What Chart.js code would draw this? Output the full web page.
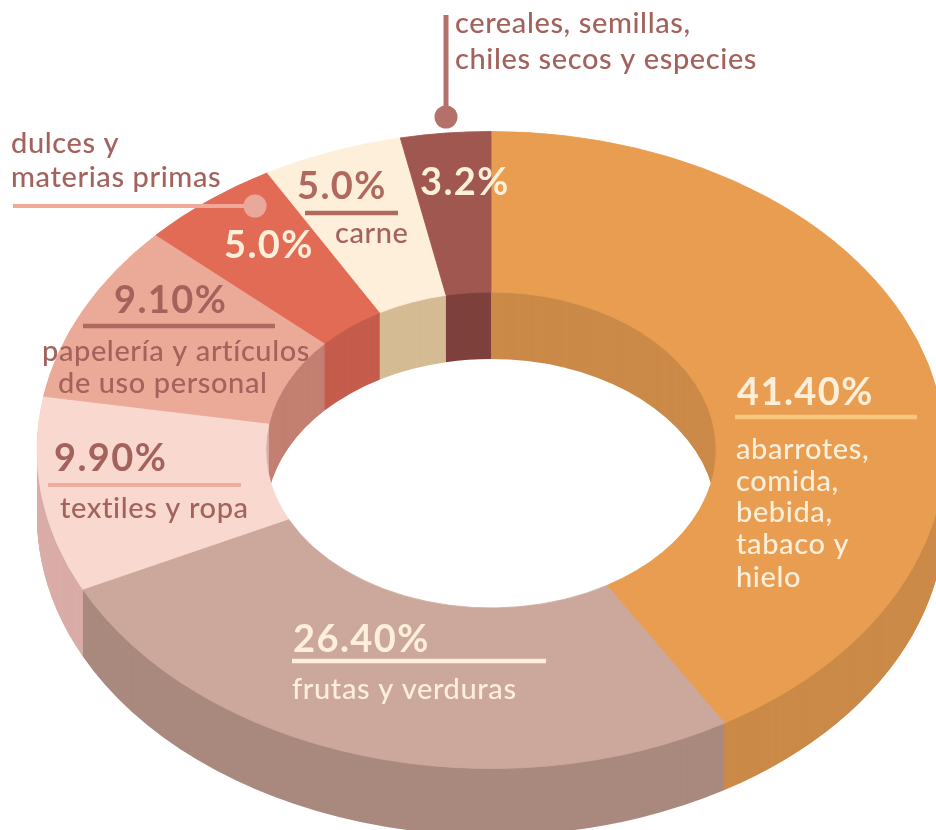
<!DOCTYPE html>
<html lang="es">
<head>
<meta charset="utf-8">
<style>
html,body{margin:0;padding:0;background:#fff;overflow:hidden;width:936px;height:830px}
canvas{display:block}
</style>
<script src="https://cdn.jsdelivr.net/npm/chart.js@4/dist/chart.umd.min.js"></script>
</head>
<body>
<canvas id="c" width="936" height="830"></canvas>
<script>
const categories = ['abarrotes, comida, bebida, tabaco y hielo','frutas y verduras','textiles y ropa','papelería y artículos de uso personal','dulces y materias primas','carne','cereales, semillas, chiles secos y especies'];
const shares = [41.4, 26.4, 9.9, 9.1, 5.0, 5.0, 3.2];
const faceColors = ['#E99D50','#CCA89C','#F9D9CF','#EBAA98','#E26B56','#FDEFDA','#A05750'];
const wallColors = ['#CB8947','#A9887D','#D9ABA6','#C27F70','#C55B4B','#D5BB93','#7E403C'];

const FONT = 'Lato, sans-serif';
const CY = 450, SQUASH = 318.5 / 454, DEPTH = 67;

const texts = [
  ['cereales, semillas,', 455, 33, 29, 500, '#A3625C'],
  ['chiles secos y especies', 455, 69, 29, 500, '#A3625C'],
  ['dulces y', 11, 153, 29, 500, '#A3625C'],
  ['materias primas', 11, 187, 29, 500, '#A3625C'],
  ['5.0%', 297, 199, 38, 700, '#B0695F'],
  ['carne', 335, 243, 29, 500, '#A3625C'],
  ['3.2%', 420, 195, 38, 700, '#FDEFDA'],
  ['5.0%', 224, 258, 38, 700, '#FDEFDA'],
  ['9.10%', 114, 313, 38, 700, '#A3625C'],
  ['papelería y artículos', 42, 361, 29, 500, '#A3625C'],
  ['de uso personal', 58, 393, 29, 500, '#A3625C'],
  ['9.90%', 54, 471, 38, 700, '#A3625C'],
  ['textiles y ropa', 60, 518, 29, 500, '#A3625C'],
  ['41.40%', 737, 405, 38, 700, '#FDEFDA'],
  ['abarrotes,', 736, 459, 29, 500, '#FDEFDA'],
  ['comida,', 736, 491, 29, 500, '#FDEFDA'],
  ['bebida,', 736, 522, 29, 500, '#FDEFDA'],
  ['tabaco y', 736, 554, 29, 500, '#FDEFDA'],
  ['hielo', 736, 587, 29, 500, '#FDEFDA'],
  ['26.40%', 293, 652, 38, 700, '#FDEFDA'],
  ['frutas y verduras', 292, 699, 29, 500, '#FDEFDA']
];
const rules = [
  [446, 15, 446, 115, 5, '#B5706A'],
  [13, 206, 250, 206, 4, '#F0A999'],
  [305, 213, 398, 213, 4.5, '#B0695F'],
  [83, 326, 275, 326, 4.5, '#B0695F'],
  [48, 485, 241, 485, 4, '#EEAE9D'],
  [735, 417, 917, 417, 4.5, '#FAC77F'],
  [292, 661, 546, 661, 4.5, '#FDEFDA']
];
const dots = [
  [446, 117, 11.5, '#B5706A'],
  [255, 206, 11.5, '#E9A99A']
];

function squash(ctx, cx, dy) {
  ctx.translate(cx, CY + dy);
  ctx.scale(1, SQUASH);
  ctx.translate(-cx, -CY);
}

const tilt = {
  id: 'tilt',
  beforeDatasetDraw(chart) {
    chart.ctx.save();
    squash(chart.ctx, chart.getDatasetMeta(0).data[0].x, 0);
  },
  afterDatasetDraw(chart, args) {
    const ctx = chart.ctx, arcs = args.meta.data, cx = arcs[0].x;
    ctx.restore();
    ctx.save();
    ctx.globalCompositeOperation = 'destination-over';
    for (let d = 1; d <= DEPTH; d++) {
      ctx.save();
      squash(ctx, cx, d);
      arcs.forEach((arc, i) => {
        const o = arc.options;
        arc.options = Object.assign({}, o, {backgroundColor: wallColors[i], borderColor: wallColors[i], borderWidth: 0});
        arc.draw(ctx);
        arc.options = o;
      });
      ctx.restore();
    }
    ctx.restore();
  }
};

const notes = {
  id: 'notes',
  afterDraw(chart) {
    const ctx = chart.ctx;
    ctx.save();
    rules.forEach(([x1, y1, x2, y2, w, c]) => {
      ctx.strokeStyle = c; ctx.lineWidth = w;
      ctx.beginPath(); ctx.moveTo(x1, y1); ctx.lineTo(x2, y2); ctx.stroke();
    });
    dots.forEach(([x, y, r, c]) => {
      ctx.fillStyle = c;
      ctx.beginPath(); ctx.arc(x, y, r, 0, Math.PI * 2); ctx.fill();
    });
    ctx.textBaseline = 'alphabetic';
    ctx.textAlign = 'left';
    texts.forEach(([t, x, y, size, weight, c]) => {
      ctx.font = weight + ' ' + size + 'px ' + FONT;
      ctx.letterSpacing = weight === 700 ? '1.4px' : '0.6px';
      ctx.fillStyle = c;
      ctx.fillText(t, x, y);
    });
    ctx.restore();
  }
};

new Chart(document.getElementById('c'), {
  type: 'doughnut',
  data: {
    labels: categories,
    datasets: [{
      data: shares,
      backgroundColor: faceColors,
      borderColor: faceColors,
      borderWidth: 1,
      radius: 454,
      clip: false
    }]
  },
  options: {
    responsive: false,
    animation: false,
    cutout: '49.6%',
    layout: {padding: {left: 46, top: 70, right: 0, bottom: 0}},
    plugins: {legend: {display: false}, tooltip: {enabled: false}, title: {display: false}},
    events: []
  },
  plugins: [tilt, notes]
});
</script>
</body>
</html>
